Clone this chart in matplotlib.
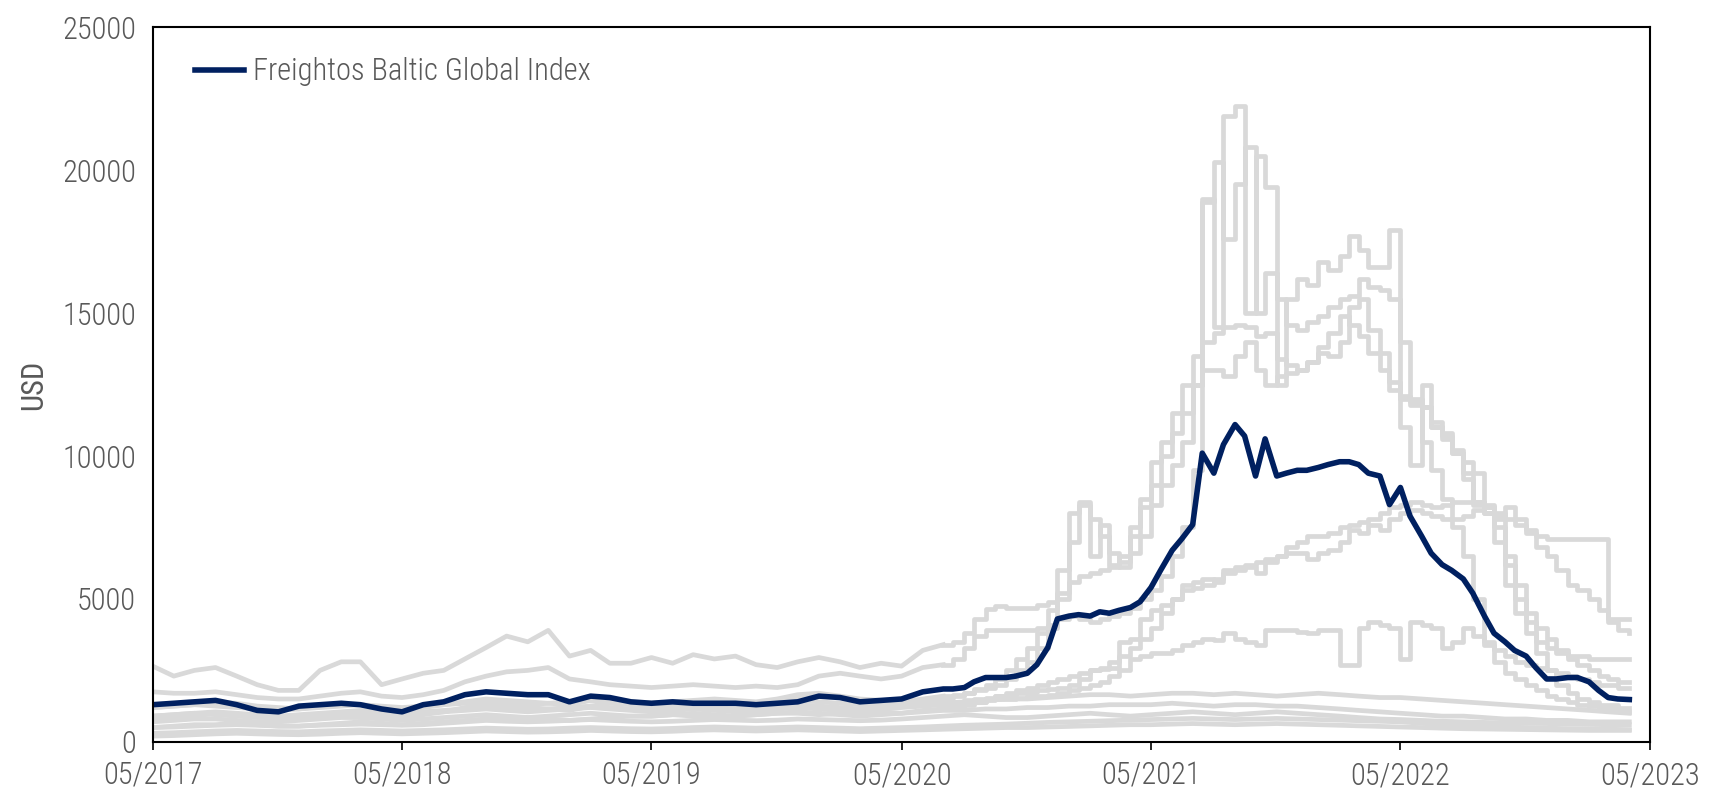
import matplotlib
matplotlib.use('Agg')
import matplotlib.pyplot as plt
import matplotlib.dates as mdates
from matplotlib import font_manager
import pandas as pd

names = {f.name for f in font_manager.fontManager.ttflist}
cands = [n for n in ['Roboto Condensed', 'Liberation Sans Narrow', 'Noto Sans']
         if n in names]
plt.rcParams['font.family'] = cands + ['DejaVu Sans']
plt.rcParams['font.stretch'] = 'condensed'
plt.rcParams['font.weight'] = 'light'

# date grids: monthly until mid-2020, semi-monthly afterwards
early = pd.date_range('2017-05-01', '2020-06-01', freq='MS')
late = pd.date_range('2020-07-01', '2023-04-01', freq='SMS')
dates = early.append(late)
months = pd.date_range('2017-05-01', '2023-04-01', freq='MS')
n_early = len(early)

# Freightos Baltic Global Index (USD / FEU)
fbx = [1300, 1350, 1400, 1450, 1300, 1100, 1050, 1250, 1300, 1350,
       1300, 1150, 1050, 1300, 1400, 1650, 1750, 1700, 1650, 1650,
       1400, 1600, 1550, 1400, 1350, 1400, 1350, 1350, 1350, 1300,
       1350, 1400, 1600, 1550, 1400, 1450, 1500, 1750,
       1850, 1850, 1900, 2100, 2250, 2250, 2250, 2300, 2400, 2700,
       3300, 4300, 4400, 4450, 4400, 4550, 4500, 4600, 4700, 4900,
       5400, 6000, 6700, 7100, 7600, 10100, 9400, 10400, 11100, 10700,
       9300, 10600, 9300, 9400, 9500, 9500, 9600, 9700, 9800, 9800,
       9700, 9400, 9300, 8300, 8900, 7900, 7200, 6600, 6200, 6000,
       5700, 5200, 4400, 3800, 3500, 3200, 3000, 2600, 2200, 2200,
       2250, 2250, 2100, 1800, 1550, 1500, 1480]

# individual lanes (grey)
china_usec = [2650, 2300, 2500, 2600, 2300, 2000, 1800, 1800, 2500, 2800,
              2800, 2000, 2200, 2400, 2500, 2900, 3300, 3700, 3500, 3900,
              3000, 3200, 2750, 2750, 2950, 2750, 3050, 2900, 3000, 2700,
              2600, 2800, 2950, 2800, 2600, 2750, 2650, 3200,
              3400, 3500, 3800, 4300, 4650, 4750, 4700, 4700, 4700, 4800,
              4900, 5200, 5600, 5800, 5900, 6000, 6100, 6300, 6600, 7200,
              8300, 9000, 9700, 10500, 12500, 19000, 14500, 21900, 22250, 15000,
              20500, 19400, 12500, 15500, 16200, 16000, 16800, 16500, 17000, 17700,
              17200, 16600, 16600, 17900, 11000, 9700, 12500, 11000, 10700, 10100,
              9200, 8400, 8000, 7500, 6500, 5000, 4200, 3500, 3300, 3200,
              3000, 3000, 2900, 2900, 2900, 2900, 2900]

china_uswc = [1750, 1700, 1700, 1750, 1650, 1550, 1500, 1500, 1600, 1700,
              1750, 1600, 1550, 1650, 1800, 2100, 2300, 2450, 2500, 2600,
              2200, 2100, 2000, 1950, 1900, 1950, 2000, 1950, 1900, 1950,
              1900, 2000, 2300, 2400, 2300, 2200, 2300, 2600,
              2700, 2900, 3300, 3700, 3900, 3900, 3900, 3900, 3900, 4000,
              4100, 4300, 4400, 4300, 4200, 4300, 4400, 4500, 4700, 5000,
              5300, 5800, 6500, 7500, 9500, 18900, 20300, 17600, 19500, 20800,
              15000, 16400, 15500, 14600, 14400, 14700, 14900, 15200, 15500, 15600,
              16200, 15900, 15800, 15500, 14000, 12000, 10500, 9500, 8500, 7500,
              6500, 5000, 3500, 2800, 2400, 2200, 2000, 1800, 1600, 1500,
              1400, 1300, 1250, 1200, 1150, 1100, 1050]

china_neur = [1200, 1250, 1300, 1400, 1350, 1250, 1200, 1150, 1250, 1300,
              1300, 1200, 1100, 1200, 1300, 1400, 1500, 1450, 1400, 1350,
              1300, 1450, 1500, 1400, 1350, 1400, 1450, 1500, 1450, 1400,
              1500, 1650, 1700, 1600, 1500, 1450, 1400, 1500,
              1600, 1650, 1700, 1800, 1900, 2000, 2200, 2500, 2800, 3300,
              4000, 5000, 8000, 8300, 7800, 7200, 6600, 6100, 7500, 8200,
              9800, 10500, 11500, 12500, 13500, 14000, 14300, 14500, 14600, 14500,
              14200, 14300, 13400, 13200, 13000, 13300, 13600, 13500, 14000, 15200,
              15500, 14400, 13600, 12600, 12100, 11900, 11700, 11000, 10600, 10200,
              9800, 9400, 8200, 7000, 5500, 4500, 3800, 3100, 2500, 2000,
              1700, 1500, 1400, 1300, 1300, 1200, 1200]

china_med = [800, 850, 900, 1000, 950, 900, 850, 800, 900, 950,
             950, 900, 850, 950, 1050, 1200, 1300, 1250, 1200, 1150,
             1100, 1250, 1350, 1300, 1250, 1300, 1350, 1400, 1350, 1300,
             1400, 1550, 1600, 1550, 1450, 1400, 1350, 1450,
             1550, 1600, 1700, 1850, 2000, 2200, 2500, 2900, 3300, 3800,
             4600, 6000, 7000, 8400, 6500, 7600, 6200, 6500, 7200, 8500,
             9000, 10000, 10800, 11500, 12500, 13000, 13000, 12800, 13500, 14000,
             13000, 12500, 12800, 12900, 13000, 13300, 13800, 14300, 14900, 14600,
             14200, 13600, 13000, 12300, 12000, 11800, 11700, 11200, 10800, 10100,
             9400, 8400, 8300, 7800, 6200, 5500, 4500, 4000, 3600, 3100,
             2900, 2700, 2500, 2300, 2200, 2100, 2100]

neur_usec = [500, 550, 600, 600, 650, 600, 550, 550, 600, 650,
             700, 650, 600, 650, 700, 750, 800, 800, 850, 800,
             750, 800, 850, 900, 900, 950, 900, 850, 900, 950,
             1000, 1000, 950, 1000, 1050, 1050, 1000, 1100,
             1150, 1200, 1300, 1400, 1500, 1600, 1700, 1800, 1900, 2000,
             2100, 2200, 2300, 2400, 2500, 2600, 2800, 3000, 3300, 3600,
             4000, 4500, 5000, 5300, 5400, 5500, 5700, 6000, 6100, 6200,
             6300, 6400, 6500, 6800, 7000, 7200, 7200, 7300, 7500, 7600,
             7700, 7800, 8000, 8200, 8300, 8400, 8300, 8200, 8300, 8400,
             8400, 8300, 8200, 8000, 7800, 7600, 7400, 7200, 7100, 7100,
             7100, 7100, 7100, 7100, 4300, 4300, 4300]

eur_saec = [1200, 1250, 1300, 1250, 1200, 1150, 1100, 1150, 1200, 1250,
            1300, 1250, 1200, 1250, 1300, 1350, 1400, 1350, 1300, 1350,
            1400, 1450, 1400, 1350, 1300, 1350, 1400, 1350, 1300, 1350,
            1400, 1450, 1400, 1350, 1300, 1300, 1300, 1350,
            1400, 1400, 1450, 1500, 1550, 1600, 1650, 1700, 1750, 1800,
            1850, 1900, 2000, 2200, 2500, 2550, 2600, 3500, 3600, 4300,
            4600, 4800, 5000, 5500, 5600, 5700, 5600, 5900, 6000, 6100,
            5900, 6300, 6500, 6600, 6600, 6400, 6600, 6700, 7000, 7400,
            7300, 7600, 7400, 7800, 8000, 8100, 8000, 7900, 7800, 7800,
            7900, 8100, 8000, 7900, 8200, 7800, 7300, 6800, 6500, 6000,
            5500, 5300, 5000, 4600, 4200, 3900, 3800]

eur_sawc = [900, 950, 1000, 950, 900, 850, 850, 900, 950, 1000,
            1050, 1000, 950, 1000, 1050, 1100, 1150, 1100, 1050, 1100,
            1150, 1200, 1150, 1100, 1050, 1100, 1150, 1100, 1050, 1100,
            1150, 1200, 1150, 1100, 1100, 1150, 1200, 1250,
            1300, 1300, 1350, 1400, 1450, 1500, 1500, 1550, 1600, 1600,
            1650, 1700, 1800, 1900, 2000, 2100, 2300, 2500, 2900, 3000,
            3100, 3100, 3200, 3400, 3500, 3600, 3550, 3800, 3600, 3500,
            3400, 3900, 3900, 3900, 3850, 3800, 3900, 3900, 2700, 2700,
            4000, 4200, 4100, 4000, 2900, 4200, 4100, 4000, 3300, 3500,
            4000, 3700, 3400, 3200, 3000, 2800, 2700, 2600, 2500, 2400,
            2300, 2200, 2100, 2000, 2000, 1900, 1900]

# back-haul lanes (monthly)
med_china = [900, 950, 1000, 1050, 1000, 950, 900, 950, 1000, 1050, 1100, 1050,
             1000, 1050, 1100, 1150, 1200, 1150, 1100, 1150, 1200, 1250, 1200, 1150,
             1150, 1200, 1250, 1200, 1150, 1200, 1250, 1300, 1250, 1200, 1150, 1200,
             1250, 1300, 1350, 1400, 1450, 1500, 1500, 1550, 1600, 1650, 1650, 1600,
             1650, 1700, 1700, 1650, 1700, 1650, 1600, 1650, 1700, 1650, 1600, 1550,
             1550, 1500, 1450, 1400, 1350, 1300, 1250, 1200, 1150, 1100, 1050, 1000]

neur_china = [700, 750, 800, 800, 750, 700, 700, 750, 800, 850, 850, 800,
              750, 800, 850, 900, 950, 900, 850, 900, 950, 1000, 950, 900,
              900, 950, 1000, 950, 900, 950, 1000, 1050, 1000, 950, 900, 950,
              1000, 1050, 1100, 1100, 1150, 1150, 1200, 1200, 1250, 1250, 1300, 1300,
              1300, 1350, 1300, 1250, 1300, 1300, 1250, 1250, 1200, 1150, 1100, 1050,
              1000, 950, 900, 900, 850, 800, 800, 750, 750, 700, 700, 700]

usec_china = [500, 520, 550, 580, 600, 580, 550, 550, 580, 600, 620, 600,
              580, 600, 650, 700, 750, 720, 700, 720, 750, 780, 750, 720,
              700, 720, 750, 780, 760, 740, 760, 800, 780, 760, 740, 760,
              800, 850, 900, 950, 900, 850, 850, 900, 950, 1000, 950, 900,
              950, 1000, 1050, 1000, 950, 1000, 1050, 1000, 950, 900, 850, 800,
              780, 750, 720, 700, 680, 660, 650, 640, 620, 610, 600, 600]

uswc_china = [300, 320, 350, 380, 400, 380, 360, 350, 380, 400, 420, 400,
              380, 400, 420, 450, 480, 460, 440, 450, 480, 500, 480, 460,
              450, 470, 500, 520, 500, 480, 500, 520, 500, 480, 460, 480,
              500, 520, 550, 580, 600, 620, 650, 680, 700, 720, 740, 760,
              780, 800, 820, 800, 780, 800, 820, 800, 780, 760, 740, 720,
              700, 650, 600, 580, 550, 520, 500, 480, 460, 450, 440, 430]

usec_neur = [200, 220, 250, 280, 300, 280, 260, 250, 270, 300, 320, 300,
             280, 300, 320, 350, 380, 360, 340, 350, 370, 400, 380, 360,
             350, 370, 400, 420, 400, 380, 400, 420, 400, 380, 360, 380,
             400, 420, 440, 460, 480, 500, 500, 520, 540, 560, 580, 600,
             600, 620, 640, 620, 600, 620, 640, 620, 600, 580, 560, 540,
             520, 500, 480, 460, 450, 440, 430, 420, 410, 400, 400, 400]

x_ticks = pd.date_range('2017-05-01', '2023-05-01', freq='12MS')

GREY = '#d9d9d9'
NAVY = '#002060'
TXT = '#595959'

fig = plt.figure(figsize=(17.15, 8.02), dpi=100)
ax = fig.add_axes([0.089, 0.075, 0.873, 0.891])

for s in [med_china, neur_china, usec_china, uswc_china, usec_neur]:
    ax.plot(months, s, color=GREY, lw=3.4)
for s in [eur_sawc, eur_saec, neur_usec, china_med, china_neur, china_uswc, china_usec]:
    # smooth weekly-like trace before mid-2020, stepped afterwards
    ax.plot(dates[:n_early + 1], s[:n_early + 1], color=GREY, lw=3.4)
    ax.plot(dates[n_early:], s[n_early:], color=GREY, lw=3.4, drawstyle='steps-post')

ax.plot(dates, fbx, color=NAVY, lw=4.0, label='Freightos Baltic Global Index')

ax.set_xlim(pd.Timestamp('2017-05-01'), pd.Timestamp('2023-05-01'))
ax.set_ylim(0, 25000)
ax.set_yticks(range(0, 25001, 5000))
ax.set_xticks(x_ticks)
ax.xaxis.set_major_formatter(mdates.DateFormatter('%m/%Y'))

for sp in ax.spines.values():
    sp.set_linewidth(1.5)
    sp.set_color('black')

ax.tick_params(axis='x', labelsize=22, labelcolor=TXT, length=6, width=1.2, pad=8)
ax.tick_params(axis='y', labelsize=22, labelcolor=TXT, length=0, pad=12)
ax.set_ylabel('USD', fontsize=22, color=TXT, labelpad=10)

leg = ax.legend(loc='upper left', bbox_to_anchor=(0.02, 0.975), frameon=False,
                fontsize=22, handlelength=1.6, handletextpad=0.3, borderaxespad=0)
for t in leg.get_texts():
    t.set_color(TXT)

fig.savefig('out.png', dpi=100)
